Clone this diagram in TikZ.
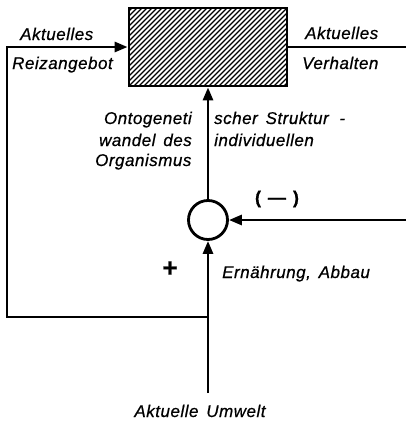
\documentclass[tikz,border=0pt]{standalone}
\usepackage{fontspec}
\setmainfont{Liberation Sans}[LetterSpace=3,WordSpace=1.5,FakeBold=0.6]
\usetikzlibrary{arrows.meta}
\tikzset{
  ln/.style={line width=2.8pt},
  arr/.style={ln,-{Triangle[length=13pt,width=10pt]}},
  lbl/.style={font=\fontsize{17}{19}\selectfont\itshape,inner sep=0pt},
}
\begin{document}
\begin{tikzpicture}[x=1pt,y=-1pt]
\useasboundingbox (0,0) rectangle (406,424);
% box
\begin{scope}
\clip (129,8) rectangle (287,86);
\foreach \i in {-90,-85,...,170} {
  \draw[line width=1.2pt] (128+\i,87) -- ++(90,-90);
}
\end{scope}
\node[draw,ln,minimum width=158pt,minimum height=78pt,inner sep=0pt] (box) at (208,47) {};
% summing circle
\node[draw,ln,circle,minimum size=39pt,inner sep=0pt] (sum) at (208,220) {};
% coordinates
\coordinate (tl) at (7,47);
\coordinate (bm) at (208,317);
\coordinate (bot) at (208,393);
\coordinate (rin) at (406,220);
\coordinate (rout) at (406,47);
% connectors
\draw[arr] (bm) -| (tl) -- (box.west);
\draw[ln] (box.east) -- (rout);
\draw[arr] (sum.north) -- (box.south);
\draw[arr] (rin) -- (sum.east);
\draw[arr] (bot) -- (sum.south);
% labels
\node[lbl,anchor=base west] (l1) at (20,40) {Aktuelles};
\node[lbl,anchor=base west] (l2) at (12,69) {Reizangebot};
\node[lbl,anchor=base west] (l3) at (305,39) {Aktuelles};
\node[lbl,anchor=base west] (l4) at (302,69) {Verhalten};
\node[lbl,anchor=base east] (l5) at (192,124) {Ontogeneti};
\node[lbl,anchor=base east] (l6) at (192,146) {wandel des};
\node[lbl,anchor=base west] (l7) at (95,166) {Organismus};
\node[lbl,anchor=base west] (l8) at (214,124) {scher Struktur\ \,-};
\node[lbl,anchor=base west] (l9) at (214,146) {individuellen};
\node[lbl,font=\fontsize{18}{20}\selectfont\bfseries] (l10) at (277,199) {(\hspace{7pt}—\hspace{7pt})};
\node[lbl,font=\fontsize{26}{28}\selectfont\bfseries] (l11) at (170,269) {+};
\node[lbl,anchor=base west] (l12) at (222,278) {Ernährung, Abbau};
\node[lbl,anchor=base] (l13) at (200,417) {Aktuelle Umwelt};
\end{tikzpicture}
\end{document}
